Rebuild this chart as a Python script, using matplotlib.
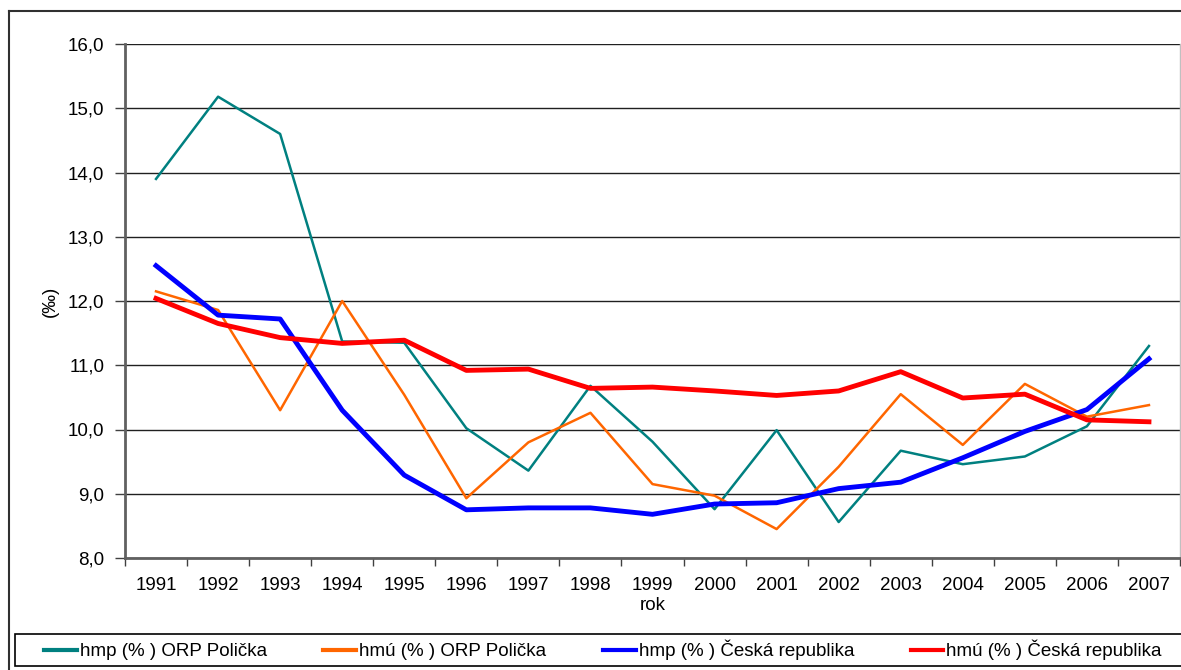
import numpy as np
import matplotlib
matplotlib.use('Agg')
import matplotlib.pyplot as plt
from matplotlib.lines import Line2D
from matplotlib.patches import Rectangle

plt.rcParams['font.family'] = ['Liberation Sans', 'DejaVu Sans']

years = ['1991', '1992', '1993', '1994', '1995', '1996', '1997', '1998', '1999',
         '2000', '2001', '2002', '2003', '2004', '2005', '2006', '2007']
hmp_orp = [13.90, 15.18, 14.60, 11.37, 11.35, 10.02, 9.36, 10.68, 9.81,
           8.76, 9.99, 8.56, 9.67, 9.46, 9.58, 10.05, 11.30]
hmu_orp = [12.15, 11.86, 10.30, 12.00, 10.54, 8.93, 9.80, 10.26, 9.15,
           8.97, 8.45, 9.42, 10.55, 9.76, 10.71, 10.20, 10.38]
hmp_cr = [12.55, 11.78, 11.72, 10.30, 9.29, 8.75, 8.78, 8.78, 8.68,
          8.84, 8.86, 9.08, 9.18, 9.56, 9.97, 10.31, 11.10]
hmu_cr = [12.04, 11.65, 11.43, 11.34, 11.39, 10.92, 10.94, 10.64, 10.66,
          10.60, 10.53, 10.60, 10.90, 10.49, 10.55, 10.15, 10.12]
labels = ['hmp (% ) ORP Polička', 'hmú (% ) ORP Polička',
          'hmp (% ) Česká republika', 'hmú (% ) Česká republika']
yticks = np.arange(8, 16.5, 1.0)

W, H = 1181, 670
fig = plt.figure(figsize=(W / 100, H / 100), dpi=100)
ax = fig.add_axes([125 / W, 1 - 558 / H, (1180 - 125) / W, (558 - 44) / H])

x = np.arange(len(years))
l1, = ax.plot(x, hmp_orp, color='#008080', lw=1.8)
l2, = ax.plot(x, hmu_orp, color='#FF6600', lw=1.8)
l3, = ax.plot(x, hmp_cr, color='#0000FF', lw=3.5)
l4, = ax.plot(x, hmu_cr, color='#FF0000', lw=3.5)

ax.set_xlim(-0.5, len(years) - 0.5)
ax.set_ylim(8, 16)
ax.set_yticks(yticks)
ax.set_yticklabels([('%.1f' % v).replace('.', ',') for v in yticks], fontsize=13.5)
ax.set_xticks(x)
ax.set_xticklabels(years, fontsize=13.5)
ax.set_xticks(np.arange(-0.5, len(years), 1.0), minor=True)
ax.tick_params(axis='x', which='major', length=0, pad=14)
ax.tick_params(axis='x', which='minor', length=6, width=1, color='#404040', direction='out')
ax.tick_params(axis='y', length=7, width=1, color='#404040', direction='out', pad=8)
ax.yaxis.grid(True, color='#202020', lw=1)
ax.set_axisbelow(True)

for s in ['left', 'bottom']:
    ax.spines[s].set_color('#606060')
    ax.spines[s].set_linewidth(2)
ax.spines['top'].set_visible(False)
ax.spines['right'].set_color('#c0c0c0')
ax.spines['right'].set_linewidth(1)

ax.set_xlabel('rok', fontsize=13.5, labelpad=2)
ax.set_ylabel('(‰)', fontsize=13.5, labelpad=6)

# outer chart frame
fig.add_artist(Line2D([9 / W, 9 / W], [0, 1 - 11 / H], transform=fig.transFigure,
                      color='#303030', lw=1.5))
fig.add_artist(Line2D([9 / W, 1], [1 - 11 / H, 1 - 11 / H], transform=fig.transFigure,
                      color='#303030', lw=1.5))
# legend box
fig.add_artist(Rectangle((15 / W, 4 / H), (W - 14) / W, 32 / H, transform=fig.transFigure,
                         fill=False, edgecolor='black', lw=1.2))

leg = fig.legend([l1, l2, l3, l4], labels, ncol=4, loc='center',
                 bbox_to_anchor=(603 / W, 20 / H),
                 fontsize=13.5, frameon=False, handlelength=1.75,
                 handletextpad=0.17, columnspacing=3.0, borderaxespad=0, borderpad=0)
for line in leg.get_lines():
    line.set_linewidth(3)

plt.savefig('out.png', dpi=100)
